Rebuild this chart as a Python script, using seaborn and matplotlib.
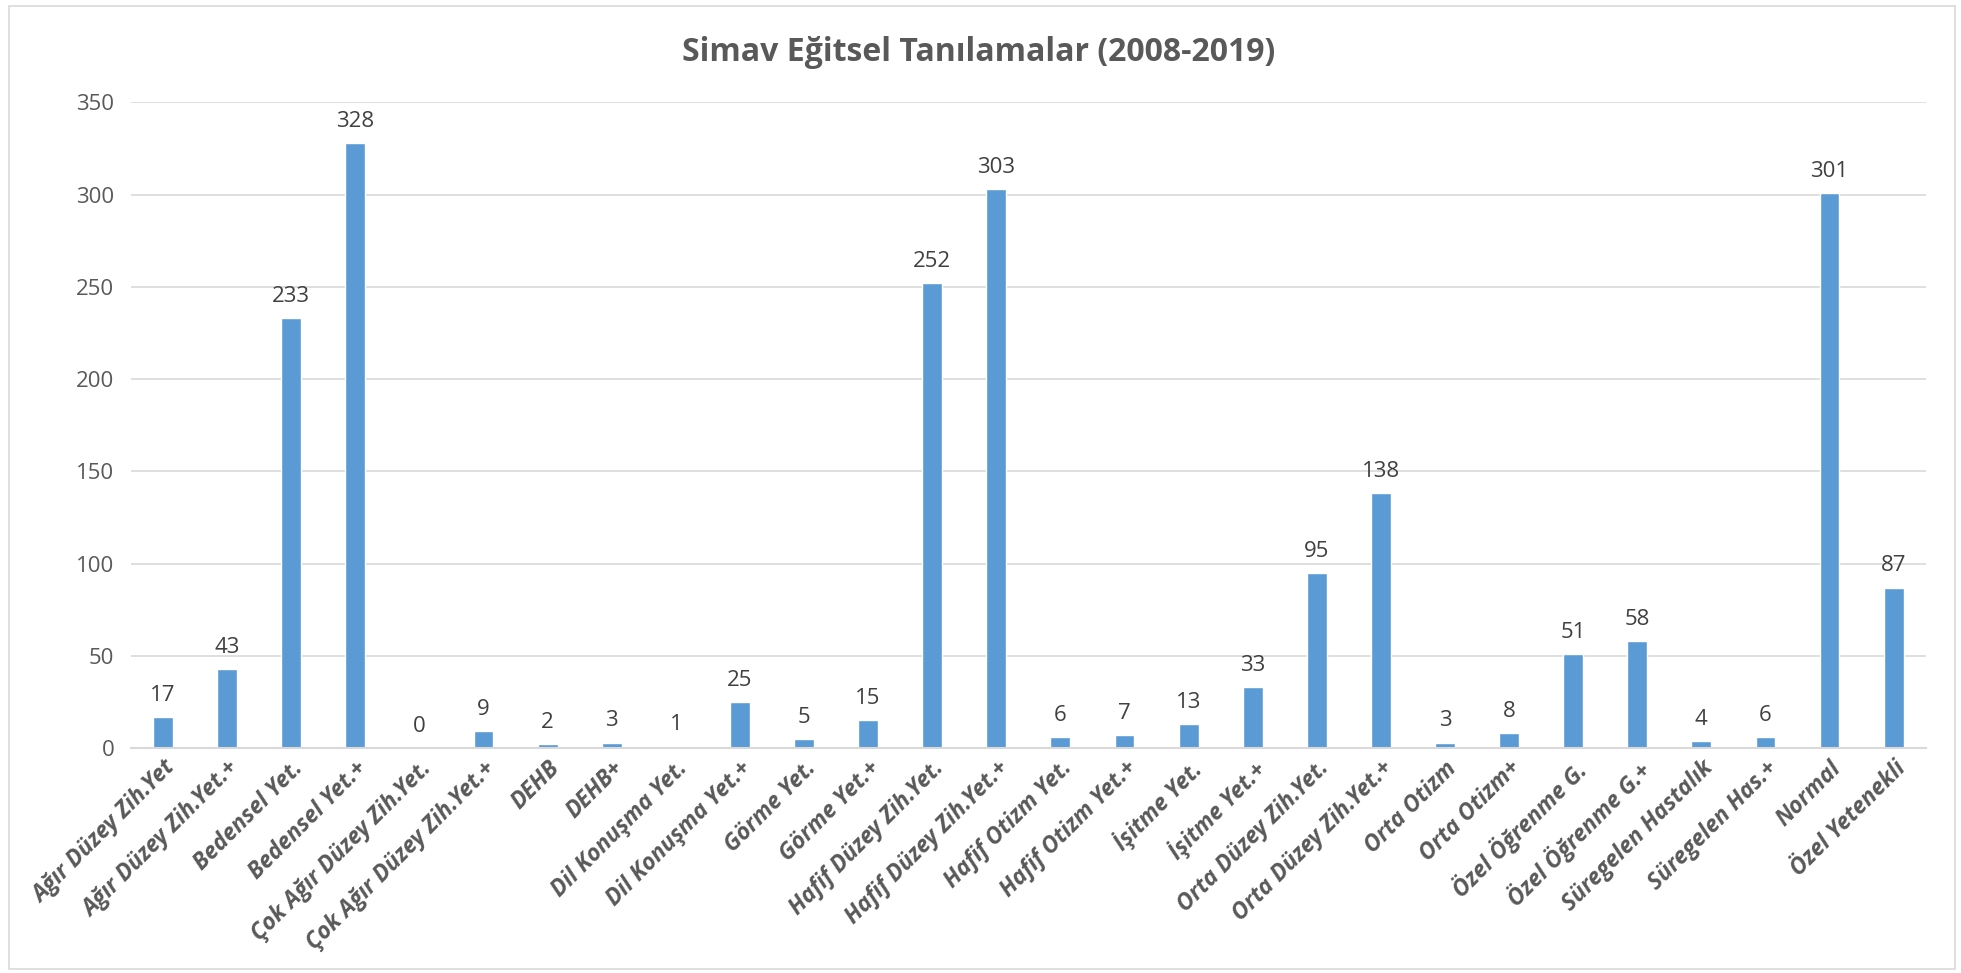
import matplotlib
matplotlib.use("Agg")
import matplotlib.pyplot as plt
import seaborn as sns
import pandas as pd
from matplotlib.patches import Rectangle

categories = ["Ağır Düzey Zih.Yet", "Ağır Düzey Zih.Yet.+", "Bedensel Yet.", "Bedensel Yet.+",
              "Çok Ağır Düzey Zih.Yet.", "Çok Ağır Düzey Zih.Yet.+", "DEHB", "DEHB+",
              "Dil Konuşma Yet.", "Dil Konuşma Yet.+", "Görme Yet.", "Görme Yet.+",
              "Hafif Düzey Zih.Yet.", "Hafif Düzey Zih.Yet.+", "Hafif Otizm Yet.", "Hafif Otizm Yet.+",
              "İşitme Yet.", "İşitme Yet.+", "Orta Düzey Zih.Yet.", "Orta Düzey Zih.Yet.+",
              "Orta Otizm", "Orta Otizm+", "Özel Öğrenme G.", "Özel Öğrenme G.+",
              "Süregelen Hastalık", "Süregelen Has.+", "Normal", "Özel Yetenekli"]
values = [17, 43, 233, 328, 0, 9, 2, 3, 1, 25, 5, 15, 252, 303, 6, 7, 13, 33, 95, 138,
          3, 8, 51, 58, 4, 6, 301, 87]
yticks = [0, 50, 100, 150, 200, 250, 300, 350]
title = "Simav Eğitsel Tanılamalar (2008-2019)"

sns.set_theme(style="white")
plt.rcParams['font.family'] = ['Open Sans', 'DejaVu Sans']

TXT = "#595959"
fig = plt.figure(figsize=(19.61, 9.73), dpi=100)
ax = fig.add_axes([0.0668, 0.2312, 0.9152, 0.6635])

df = pd.DataFrame({"cat": categories, "val": values})
sns.barplot(data=df, x="cat", y="val", color="#5B9BD5", saturation=1, width=0.31, ax=ax)

ax.set_ylim(0, 350)
ax.set_xlim(-0.5, len(categories) - 0.5)
ax.set_yticks(yticks)
ax.set_yticklabels([str(t) for t in yticks], fontsize=16, color=TXT)
ax.tick_params(axis='y', length=0, pad=12)
ax.tick_params(axis='x', length=0, pad=6)
ax.set_xticks(range(len(categories)))
ax.set_xticklabels(categories, rotation=45, ha='right', rotation_mode='anchor',
                   fontsize=16.5, fontweight='bold', fontstyle='italic', color=TXT)
ax.set_xlabel("")
ax.set_ylabel("")
ax.grid(axis='y', color="#D9D9D9", linewidth=1.2)
ax.set_axisbelow(True)
for s in ["top", "right", "left"]:
    ax.spines[s].set_visible(False)
ax.spines["bottom"].set_color("#D9D9D9")
ax.spines["bottom"].set_linewidth(1.5)

for c in ax.containers:
    ax.bar_label(c, labels=[str(v) for v in values], padding=8, fontsize=16, color="#404040")

fig.text(0.499, 0.946, title, ha='center', va='center', fontsize=23, fontweight='bold', color=TXT)
fig.patches.append(Rectangle((0.0046, 0.004), 0.9924, 0.99, transform=fig.transFigure,
                             fill=False, edgecolor="#D9D9D9", linewidth=1.2))

fig.savefig("out.png", dpi=100, facecolor="white")
